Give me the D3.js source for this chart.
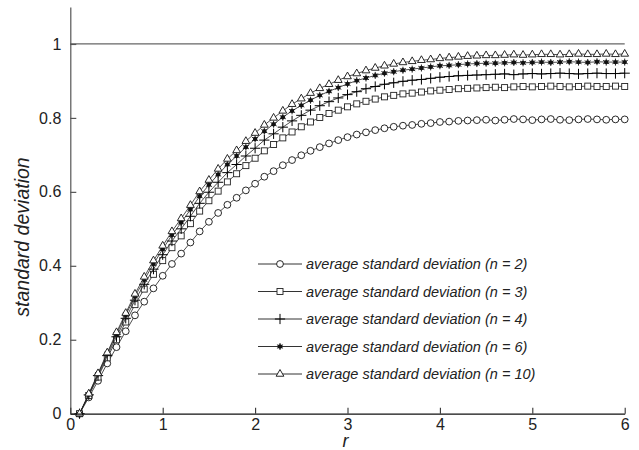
<!DOCTYPE html>
<html>
<head>
<meta charset="utf-8">
<script src="https://cdn.jsdelivr.net/npm/d3@7"></script>
<style>
  body { margin: 0; background: #fff; }
  svg text { font-family: "Liberation Sans", Arial, sans-serif; }
</style>
</head>
<body>
<svg id="chart" width="639" height="450"></svg>
<script>
// r values 0.1 ... 6.0
const rValues = d3.range(1, 61).map(i => i / 10);

const sdN2 = [0, 0.044, 0.089, 0.136, 0.180, 0.223, 0.266, 0.303, 0.339, 0.373,
  0.405, 0.433, 0.463, 0.493, 0.519, 0.543, 0.565, 0.584, 0.604, 0.622,
  0.641, 0.656, 0.672, 0.686, 0.699, 0.711, 0.721, 0.731, 0.740, 0.748,
  0.755, 0.761, 0.767, 0.772, 0.776, 0.779, 0.781, 0.784, 0.786, 0.789,
  0.790, 0.792, 0.793, 0.794, 0.795, 0.793, 0.795, 0.797, 0.796, 0.794,
  0.796, 0.797, 0.795, 0.794, 0.796, 0.797, 0.796, 0.795, 0.796, 0.796];

const sdN3 = [0, 0.049, 0.099, 0.151, 0.200, 0.248, 0.295, 0.337, 0.377, 0.414,
  0.449, 0.481, 0.514, 0.548, 0.576, 0.602, 0.627, 0.649, 0.671, 0.691,
  0.711, 0.728, 0.746, 0.762, 0.776, 0.789, 0.801, 0.812, 0.821, 0.830,
  0.838, 0.845, 0.851, 0.857, 0.861, 0.865, 0.867, 0.870, 0.873, 0.875,
  0.877, 0.879, 0.880, 0.881, 0.882, 0.883, 0.882, 0.884, 0.885, 0.884,
  0.885, 0.886, 0.885, 0.884, 0.885, 0.886, 0.885, 0.885, 0.886, 0.885];

const sdN4 = [0, 0.051, 0.103, 0.157, 0.208, 0.258, 0.307, 0.350, 0.391, 0.430,
  0.467, 0.500, 0.534, 0.569, 0.599, 0.626, 0.652, 0.674, 0.697, 0.718,
  0.740, 0.757, 0.775, 0.792, 0.807, 0.821, 0.833, 0.844, 0.854, 0.863,
  0.871, 0.879, 0.885, 0.891, 0.895, 0.899, 0.902, 0.904, 0.907, 0.910,
  0.912, 0.914, 0.915, 0.916, 0.917, 0.918, 0.919, 0.917, 0.919, 0.920,
  0.919, 0.920, 0.921, 0.920, 0.919, 0.920, 0.921, 0.920, 0.920, 0.921];

const sdN6 = [0, 0.052, 0.107, 0.162, 0.215, 0.267, 0.317, 0.362, 0.405, 0.445,
  0.483, 0.517, 0.552, 0.588, 0.619, 0.647, 0.674, 0.697, 0.721, 0.743,
  0.764, 0.783, 0.802, 0.819, 0.834, 0.848, 0.861, 0.872, 0.882, 0.892,
  0.901, 0.908, 0.915, 0.921, 0.925, 0.929, 0.932, 0.935, 0.938, 0.941,
  0.942, 0.944, 0.946, 0.947, 0.948, 0.948, 0.949, 0.950, 0.949, 0.950,
  0.951, 0.950, 0.951, 0.952, 0.951, 0.950, 0.952, 0.951, 0.951, 0.951];

const sdN10 = [0, 0.054, 0.109, 0.165, 0.220, 0.272, 0.324, 0.370, 0.414, 0.454,
  0.493, 0.528, 0.564, 0.601, 0.632, 0.662, 0.689, 0.712, 0.737, 0.759,
  0.781, 0.800, 0.819, 0.837, 0.852, 0.867, 0.880, 0.891, 0.902, 0.912,
  0.920, 0.928, 0.935, 0.941, 0.946, 0.950, 0.953, 0.956, 0.958, 0.961,
  0.963, 0.965, 0.967, 0.968, 0.969, 0.969, 0.970, 0.971, 0.970, 0.971,
  0.972, 0.972, 0.971, 0.972, 0.973, 0.972, 0.972, 0.973, 0.972, 0.973];

const seriesN = [2, 3, 4, 6, 10];
const seriesValues = [sdN2, sdN3, sdN4, sdN6, sdN10];
const seriesMarkers = ["circle", "square", "plus", "star", "triangle"];

const xTicks = [0, 1, 2, 3, 4, 5, 6];
const yTicks = [0, 0.2, 0.4, 0.6, 0.8, 1];
const referenceLevel = 1;

const series = seriesN.map((n, i) => ({
    n,
    marker: seriesMarkers[i],
    points: rValues.map((r, j) => ({ r, v: seriesValues[i][j] }))
}));

//dimensions
const svg = d3.select("#chart");
const x = d3.scaleLinear().domain([0, 6]).range([70.3, 624.7]);
const y = d3.scaleLinear().domain([0, 1.1]).range([413.7, 7]);

//marker drawing
function drawMarker(g, type){
    if(type === "circle"){
        g.append("circle").attr("r", 3.4)
            .attr("fill", "#fff").attr("stroke", "#111").attr("stroke-width", 0.9);
    }else if(type === "square"){
        g.append("rect").attr("x", -3).attr("y", -3).attr("width", 6).attr("height", 6)
            .attr("fill", "#fff").attr("stroke", "#222").attr("stroke-width", 0.9);
    }else if(type === "plus"){
        g.append("path").attr("d", d3.symbol(d3.symbolPlus, 36)())
            .attr("fill", "none").attr("stroke", "#000").attr("stroke-width", 1);
    }else if(type === "star"){
        g.append("path").attr("d", d3.symbol(d3.symbolAsterisk, 34)())
            .attr("fill", "none").attr("stroke", "#222").attr("stroke-width", 1);
        g.append("circle").attr("r", 2.2).attr("fill", "#111");
    }else if(type === "triangle"){
        g.append("path").attr("d", d3.symbol(d3.symbolTriangle, 26)())
            .attr("fill", "#fff").attr("stroke", "#111").attr("stroke-width", 0.9);
    }
}

//reference line at 1
svg.append("line")
    .attr("x1", x(0)).attr("x2", x(6))
    .attr("y1", y(referenceLevel)).attr("y2", y(referenceLevel))
    .attr("stroke", "#666").attr("stroke-width", 1.2);

//series lines + markers
const line = d3.line().x(d => x(d.r)).y(d => y(d.v));
const seriesG = svg.selectAll("g.series").data(series)
    .join("g").attr("class", "series");

seriesG.append("path")
    .attr("d", d => line(d.points))
    .attr("fill", "none")
    .attr("stroke", "#222")
    .attr("stroke-width", 0.8);

seriesG.each(function(s){
    d3.select(this).selectAll("g.marker").data(s.points)
        .join("g")
            .attr("class", "marker")
            .attr("transform", d => `translate(${x(d.r)},${y(d.v)})`)
            .each(function(){ drawMarker(d3.select(this), s.marker); });
});

//axes
const yAxis = svg.append("g")
    .attr("transform", `translate(${x(0)},0)`)
    .call(d3.axisLeft(y).tickValues(yTicks).tickFormat(d3.format("~g"))
        .tickSizeInner(-6).tickSizeOuter(0).tickPadding(9));
yAxis.select(".domain").attr("stroke", "#555").attr("stroke-width", 1.2);
yAxis.selectAll(".tick line").attr("stroke", "#555").attr("stroke-width", 1.2);
yAxis.selectAll(".tick text").attr("font-size", 16).attr("fill", "#222")
    .attr("font-family", "'Liberation Sans', Arial, sans-serif");

const xAxis = svg.append("g")
    .attr("transform", `translate(0,${y(0)})`)
    .call(d3.axisBottom(x).tickValues(xTicks).tickFormat(d3.format("d"))
        .tickSizeInner(-6).tickSizeOuter(0).tickPadding(5));
xAxis.select(".domain").attr("stroke", "#111").attr("stroke-width", 1.3);
xAxis.selectAll(".tick line").attr("stroke", "#333").attr("stroke-width", 1.1);
xAxis.selectAll(".tick text").attr("font-size", 16).attr("fill", "#222")
    .attr("font-family", "'Liberation Sans', Arial, sans-serif");

//axis titles
svg.append("text")
    .attr("transform", `translate(29,237) rotate(-90)`)
    .attr("text-anchor", "middle")
    .attr("font-size", 19.5).attr("font-style", "italic").attr("fill", "#222")
    .text("standard deviation");

svg.append("text")
    .attr("x", x(3) - 2).attr("y", 447)
    .attr("text-anchor", "middle")
    .attr("font-size", 18).attr("font-style", "italic").attr("fill", "#222")
    .text("r");

//legend
const legend = svg.append("g").attr("transform", "translate(258,264)");
const legendRow = legend.selectAll("g.legend-row").data(series)
    .join("g")
        .attr("class", "legend-row")
        .attr("transform", (d, i) => `translate(0,${i * 27.5})`);

legendRow.append("line")
    .attr("x1", 0).attr("x2", 44).attr("y1", 0).attr("y2", 0)
    .attr("stroke", "#333").attr("stroke-width", 1);
legendRow.append("g")
    .attr("transform", "translate(22,0)")
    .each(function(d){ drawMarker(d3.select(this), d.marker); });

const legendText = legendRow.append("text")
    .attr("x", 48).attr("y", 5)
    .attr("font-size", 14.5).attr("font-style", "italic").attr("fill", "#222");
legendText.append("tspan").text("average standard deviation (");
legendText.append("tspan").text(d => `n = ${d.n}`);
legendText.append("tspan").text(")");
</script>
</body>
</html>
